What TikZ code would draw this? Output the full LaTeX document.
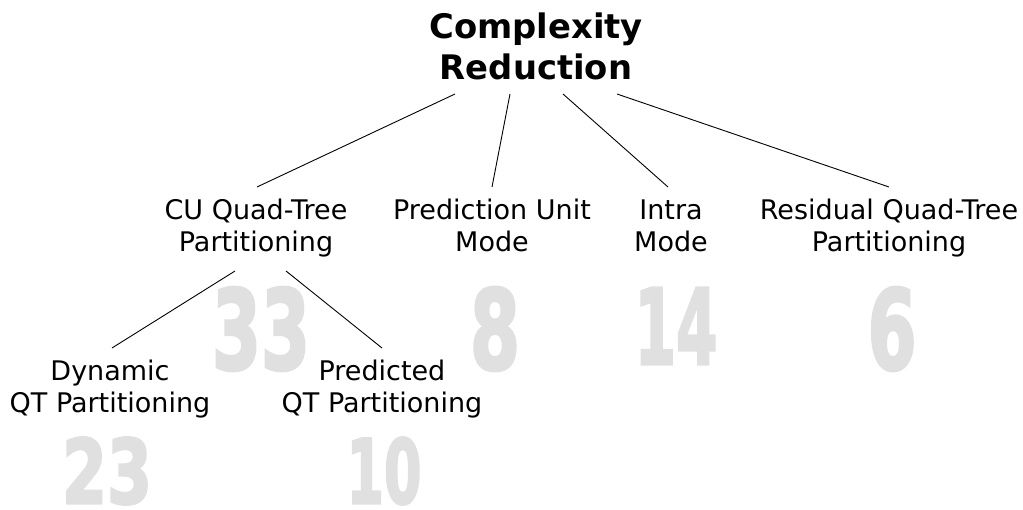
\documentclass[tikz,border=0pt]{standalone}
\usepackage{fontspec}
\setmainfont{DejaVu Sans}
\newfontfamily\numfont[FakeBold=3]{DejaVu Sans Bold}
\usetikzlibrary{calc}
\definecolor{numgray}{HTML}{E0E0E0}
\tikzset{
  titlebox/.style={align=center, inner xsep=0pt, inner ysep=1.5pt,
    font=\fontsize{33.8}{41.5}\selectfont\bfseries},
  topicbox/.style={align=center, inner xsep=0pt, inner ysep=9pt,
    font=\fontsize{27}{32.8}\selectfont},
  bignum/.style={inner sep=0pt, text=numgray, font=\numfont},
  link/.style={draw=black, line width=0.9pt}
}
\newcommand{\numbox}[3]{\resizebox{#1pt}{#2pt}{#3}}
\begin{document}
\begin{tikzpicture}[x=1pt, y=-1pt]
\useasboundingbox (0,0) rectangle (1023,510);

% large background counts
\node[bignum] (n33) at (261,329) {\numbox{98}{82}{33}};
\node[bignum] (n8)  at (495,329) {\numbox{50}{82}{8}};
\node[bignum] (n14) at (676,326) {\numbox{83}{76}{14}};
\node[bignum] (n6)  at (892,329) {\numbox{49}{82}{6}};
\node[bignum] (n23) at (107,471) {\numbox{90}{66}{23}};
\node[bignum] (n10) at (384,471) {\numbox{75}{66}{10}};

% labels
\node[titlebox, anchor=south] (root) at (536,94) {\strut Complexity\\\strut Reduction};
\node[topicbox, anchor=north] (cu)   at (256,187) {\strut CU Quad-Tree\\\strut Partitioning};
\node[topicbox, anchor=north] (pu)   at (492,187) {\strut Prediction Unit\\\strut Mode};
\node[topicbox, anchor=north] (intra) at (671,187) {\strut Intra\\\strut Mode};
\node[topicbox, anchor=north] (rqt)  at (889,187) {\strut Residual Quad-Tree\\\strut Partitioning};
\node[topicbox, anchor=north] (dyn)  at (110,348) {\strut Dynamic\\\strut QT Partitioning};
\node[topicbox, anchor=north] (pred) at (382,348) {\strut Predicted\\\strut QT Partitioning};

% tree edges
\draw[link] ([xshift=-81pt]root.south) -- ([xshift=1pt]cu.north);
\draw[link] ([xshift=-26pt]root.south) -- (pu.north);
\draw[link] ([xshift=27pt]root.south) -- ([xshift=-3pt]intra.north);
\draw[link] ([xshift=81pt]root.south) -- (rqt.north);
\draw[link] ([xshift=-21pt]cu.south) -- ([xshift=2pt]dyn.north);
\draw[link] ([xshift=30pt]cu.south) -- (pred.north);
\end{tikzpicture}
\end{document}
